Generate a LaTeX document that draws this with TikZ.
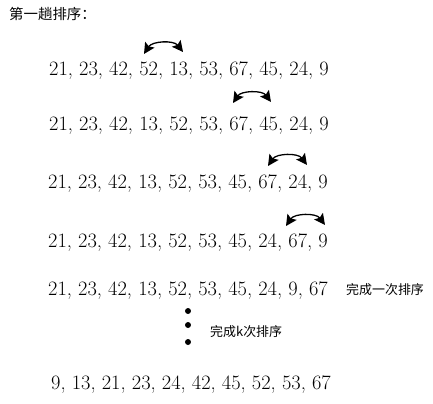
\documentclass[tikz,border=0pt]{standalone}
\usepackage{fontspec}
\newfontfamily\cjk{Noto Sans CJK SC}
\usetikzlibrary{arrows.meta}
\tikzset{
  seq/.style={anchor=base west, inner sep=0pt, font=\fontsize{20.5}{22}\selectfont},
  lbl/.style={anchor=base west, inner sep=0pt, font=\cjk\fontsize{13}{15}\selectfont},
  swap/.style={line width=1.3pt, {Stealth[length=11pt,width=11pt,inset=2pt]}-{Stealth[length=11pt,width=11pt,inset=2pt]}, bend left=55},
  dot/.style={circle, fill=black, inner sep=0pt, minimum size=6pt}
}
\begin{document}
\begin{tikzpicture}[x=1bp,y=-1bp]
\useasboundingbox (0,0) rectangle (433,403);
\node[lbl, font=\cjk\fontsize{14.5}{16}\selectfont] (title) at (9,19) {第一趟排序：};
\node[seq] (r1) at (49,75) {21, 23, 42, 52, 13, 53, 67, 45, 24, 9};
\node[seq] (r2) at (49,130) {21, 23, 42, 13, 52, 53, 67, 45, 24, 9};
\node[seq] (r3) at (48,188) {21, 23, 42, 13, 52, 53, 45, 67, 24, 9};
\node[seq] (r4) at (48,247) {21, 23, 42, 13, 52, 53, 45, 24, 67, 9};
\node[seq] (r5) at (48,295) {21, 23, 42, 13, 52, 53, 45, 24, 9, 67};
\node[lbl] (done1) at (346,294) {完成一次排序};
\node[dot] (d1) at (188,311) {};
\node[dot] (d2) at (188,325) {};
\node[dot] (d3) at (188,342) {};
\node[lbl] (donek) at (210,336) {完成k次排序};
\node[seq] (r6) at (51,389) {9, 13, 21, 23, 24, 42, 45, 52, 53, 67};
\coordinate (a1) at (144,54); \coordinate (b1) at (183,52);
\coordinate (a2) at (233,103); \coordinate (b2) at (271,102);
\coordinate (a3) at (268,166); \coordinate (b3) at (307,165);
\coordinate (a4) at (286,226); \coordinate (b4) at (325,225);
\draw[swap] (a1) to (b1);
\draw[swap] (a2) to (b2);
\draw[swap] (a3) to (b3);
\draw[swap] (a4) to (b4);
\end{tikzpicture}
\end{document}
